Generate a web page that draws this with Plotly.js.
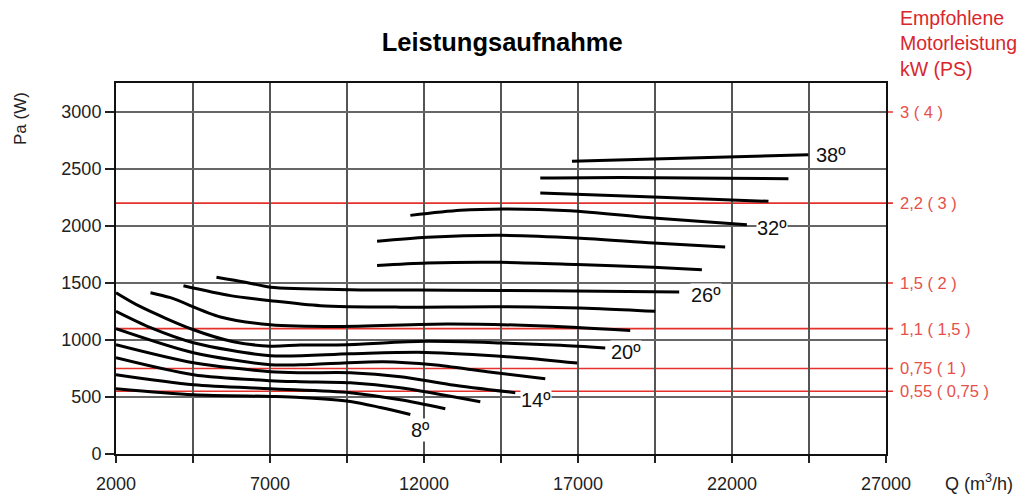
<!DOCTYPE html>
<html>
<head>
<meta charset="utf-8">
<script src="https://cdn.plot.ly/plotly-3.0.1.min.js"></script>
<style>html,body{margin:0;padding:0;background:#fff;}#chart{width:1027px;height:498px;}</style>
</head>
<body>
<div id="chart"></div>
<script>
// Blade angles (degrees) and their power curves: Q (m3/h) vs Pa (W)
const angles = [8, 10, 12, 14, 16, 18, 20, 22, 24, 26, 28, 30, 32, 34, 36, 38];

const q8  = [2000, 4515, 7013, 7987, 9610, 10583, 11556];
const p8  = [573, 520, 505, 496, 461, 408, 347];
const q10 = [2000, 4515, 7013, 9610, 11232, 12692];
const p10 = [696, 608, 573, 538, 476, 397];
const q12 = [2000, 4515, 7013, 7987, 9610, 11232, 13828];
const p12 = [845, 696, 643, 634, 625, 582, 459];
const q14 = [2000, 4515, 7013, 7987, 9610, 11232, 12855, 14964];
const p14 = [959, 801, 722, 713, 713, 678, 608, 538];
const q16 = [2000, 4515, 7013, 7987, 10680, 12303, 14055, 15937];
const p16 = [1099, 888, 783, 783, 810, 783, 722, 661];
const q18 = [2000, 3120, 4515, 7013, 9610, 12043, 15126, 16976];
const p18 = [1251, 1108, 976, 862, 880, 891, 845, 798];
const q20 = [2000, 2795, 4515, 5813, 7013, 7987, 9512, 12043, 14477, 16424, 17884];
const p20 = [1415, 1292, 1090, 985, 946, 955, 959, 988, 974, 953, 930];
const q22 = [3120, 3769, 5391, 7013, 9187, 12757, 15677, 18695];
const p22 = [1415, 1371, 1202, 1134, 1119, 1140, 1125, 1084];
const q24 = [4190, 5716, 7013, 8636, 11232, 14477, 17722, 19507];
const p24 = [1476, 1389, 1345, 1301, 1288, 1292, 1275, 1251];
const q26 = [5261, 6202, 7013, 9610, 12855, 16100, 20286];
const p26 = [1551, 1507, 1463, 1441, 1437, 1432, 1421];
const q28 = [10476, 12098, 14477, 16966, 19452, 21022];
const p28 = [1654, 1675, 1681, 1661, 1637, 1617];
const q30 = [10476, 12098, 14477, 16966, 19452, 21778];
const p30 = [1865, 1900, 1918, 1895, 1851, 1816];
const q32 = [11557, 13179, 14584, 16749, 19452, 22483];
const p32 = [2093, 2137, 2149, 2134, 2070, 2011];
const q34 = [15775, 19452, 23184];
const p34 = [2289, 2254, 2216];
const q36 = [15775, 18371, 23832];
const p36 = [2421, 2426, 2415];
const q38 = [16804, 19452, 24481];
const p38 = [2567, 2588, 2625];

const curveQ = [q8, q10, q12, q14, q16, q18, q20, q22, q24, q26, q28, q30, q32, q34, q36, q38];
const curveP = [p8, p10, p12, p14, p16, p18, p20, p22, p24, p26, p28, p30, p32, p34, p36, p38];

// Labelled angles and label anchor positions
const labelAngles = ["8º", "14º", "20º", "26º", "32º", "38º"];
const labelQ = [11881, 15645, 18566, 21162, 23303, 25218];
const labelP = [213, 476, 899, 1397, 1985, 2620];

// Recommended motor power thresholds
const motorP = [3000, 2200, 1500, 1100, 750, 550];
const motorText = ["3 ( 4 )", "2,2 ( 3 )", "1,5 ( 2 )", "1,1 ( 1,5 )", "0,75 ( 1 )", "0,55 ( 0,75 )"];

// Axis ticks
const xTickVals = [2000, 7000, 12000, 17000, 22000, 27000];
const xTickText = ["2000", "7000", "12000", "17000", "22000", "27000"];
const xMinorVals = [4500, 9500, 14500, 19500, 24500];
const yTickVals = [0, 500, 1000, 1500, 2000, 2500, 3000];

const RED = "#e4312b";
const RED_TXT = "#e6504a";
const FONT = "Liberation Sans, Arial, sans-serif";

const traces = curveQ.map((q, i) => ({
  type: "scatter", mode: "lines", x: q, y: curveP[i],
  line: {color: "#000", width: 3, shape: "spline", smoothing: 0.8},
  hoverinfo: "skip", showlegend: false, name: angles[i] + "°"
}));

const shapes = motorP.map(p => ({
  type: "line", xref: "paper", yref: "y", x0: 0, x1: 1.009, y0: p, y1: p,
  line: {color: RED, width: 1.6}, layer: "below"
}));

const annotations = [];
labelAngles.forEach((t, i) => annotations.push({
  x: labelQ[i], y: labelP[i], xref: "x", yref: "y", text: t, showarrow: false,
  font: {family: FONT, size: 20, color: "#111"},
  bgcolor: i === labelAngles.length - 1 ? "rgba(0,0,0,0)" : "#fff", borderpad: 0
}));
motorText.forEach((t, i) => annotations.push({
  x: 1.015, y: motorP[i], xref: "paper", yref: "y", text: t, showarrow: false,
  xanchor: "left", yanchor: "middle",
  font: {family: FONT, size: 16.5, color: RED_TXT}
}));
annotations.push({
  x: 1.015, y: 1.211, xref: "paper", yref: "paper", xanchor: "left", yanchor: "top",
  align: "left", showarrow: false,
  text: "Empfohlene<br>Motorleistung<br>kW (PS)",
  font: {family: FONT, size: 19.5, color: "#d9262c"}
});
annotations.push({
  x: -0.125, y: 0.905, xref: "paper", yref: "paper", textangle: -90, showarrow: false,
  text: "Pa (W)", xanchor: "center", yanchor: "middle",
  font: {family: FONT, size: 17, color: "#222"}
});
annotations.push({
  x: 1.074, y: -0.078, xref: "paper", yref: "paper", showarrow: false,
  text: "Q (m<sup>3</sup>/h)", xanchor: "left", yanchor: "middle",
  font: {family: FONT, size: 18, color: "#222"}
});

const layout = {
  width: 1027, height: 498,
  margin: {l: 116, r: 141, t: 83, b: 44},
  paper_bgcolor: "#fff", plot_bgcolor: "#fff",
  title: {text: "<b>Leistungsaufnahme</b>", x: 0.489, xanchor: "center", y: 0.915, yanchor: "middle",
          font: {family: FONT, size: 25.5, color: "#000"}},
  xaxis: {
    range: [2000, 27000], tickmode: "array", tickvals: xTickVals, ticktext: xTickText,
    showgrid: true, gridcolor: "#555", gridwidth: 1.3,
    minor: {tickmode: "array", tickvals: xMinorVals, ticks: "outside", ticklen: 7,
            tickcolor: "#222", tickwidth: 1.2, showgrid: true, gridcolor: "#555", gridwidth: 1.3},
    showline: true, linecolor: "#111", linewidth: 2, mirror: true,
    ticks: "outside", ticklen: 7, tickcolor: "#222", tickwidth: 1.2,
    ticklabelstandoff: 5,
    tickfont: {family: FONT, size: 18, color: "#222"},
    zeroline: false, fixedrange: true
  },
  yaxis: {
    range: [0, 3254], tickmode: "array", tickvals: yTickVals,
    showgrid: true, gridcolor: "#666", gridwidth: 1.2,
    showline: true, linecolor: "#111", linewidth: 2, mirror: true,
    ticks: "outside", ticklen: 9, tickcolor: "#222", tickwidth: 1.2,
    tickfont: {family: FONT, size: 18, color: "#222"},
    zeroline: false, fixedrange: true
  },
  shapes: shapes,
  annotations: annotations,
  showlegend: false
};

Plotly.newPlot("chart", traces, layout, {displayModeBar: false, staticPlot: true});
</script>
</body>
</html>
